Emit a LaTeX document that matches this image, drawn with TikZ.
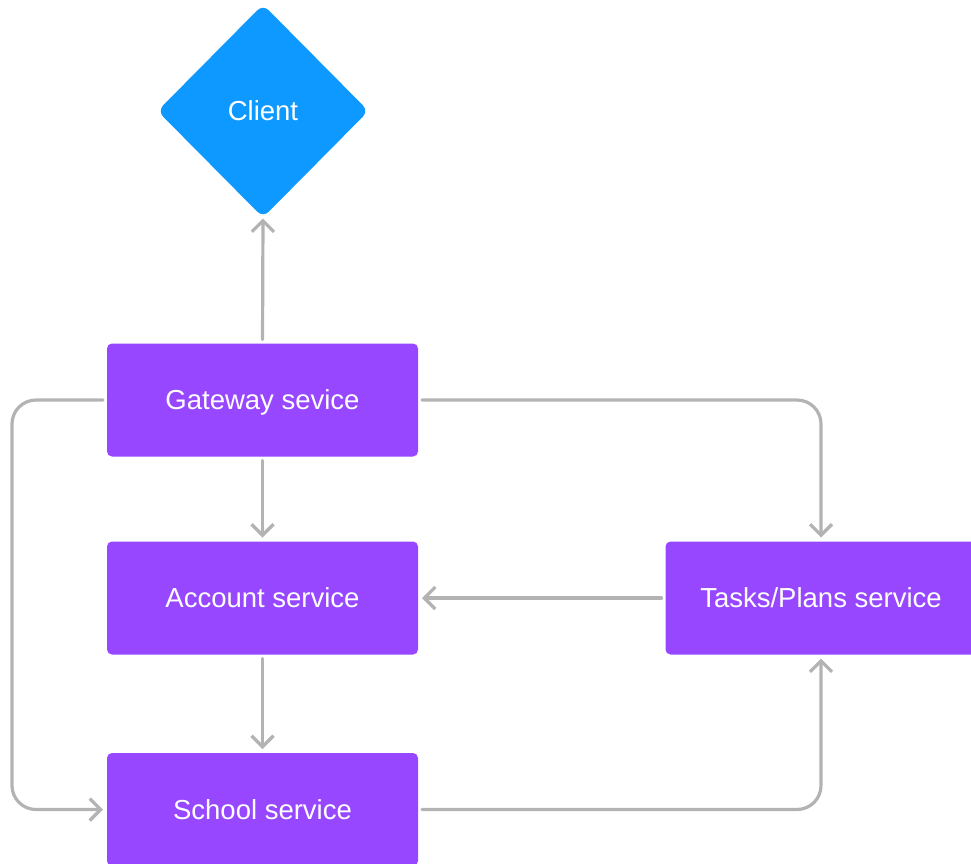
\documentclass[tikz,border=0pt]{standalone}
\usepackage{fontspec}
\setmainfont{Liberation Sans}
\usetikzlibrary{arrows.meta,shapes.geometric}
\definecolor{svc}{HTML}{9747FF}
\definecolor{cli}{HTML}{0D99FF}
\definecolor{wire}{HTML}{B3B3B3}
\begin{document}
\begin{tikzpicture}[x=1pt,y=-1pt,
  labelfont/.style={font=\fontsize{27.5}{32}\selectfont, text height=19.7pt, text depth=0pt},
  box/.style={rectangle, rounded corners=5pt, fill=svc, text=white,
    minimum width=311pt, minimum height=113pt, inner sep=0pt, outer sep=0pt, labelfont},
  clientshape/.style={diamond, rounded corners=8pt, fill=cli, text=white,
    minimum width=211pt, minimum height=213pt, inner sep=0pt, outer sep=0pt, labelfont},
  conn/.style={draw=wire, line width=3.2pt, line cap=round, rounded corners=24pt,
    -{Straight Barb[length=11pt,width=22pt]}, shorten <=4pt, shorten >=4pt}]
\useasboundingbox (0,0) rectangle (971,863);
\clip (0,0) rectangle (971,863);

\node[clientshape] (client) at (263,111) {Client};
\node[box] (gw) at (262.5,400) {Gateway sevice};
\node[box] (acc) at (262.5,598) {Account service};
\node[box] (sch) at (262.5,809.5) {School service};
\node[box] (tp) at (821,598) {Tasks/Plans service};
\coordinate (lft) at (12,600);

\draw[conn, shorten >=1pt] (gw.north) -- (client.south);
\draw[conn] (gw.south) -- (acc.north);
\draw[conn] (acc.south) -- (sch.north);
\draw[conn] (tp.west) -- (acc.east);
\draw[conn] (gw.west) -| (lft) |- (sch.west);
\draw[conn] (gw.east) -| (tp.north);
\draw[conn] (sch.east) -| (tp.south);
\end{tikzpicture}
\end{document}
